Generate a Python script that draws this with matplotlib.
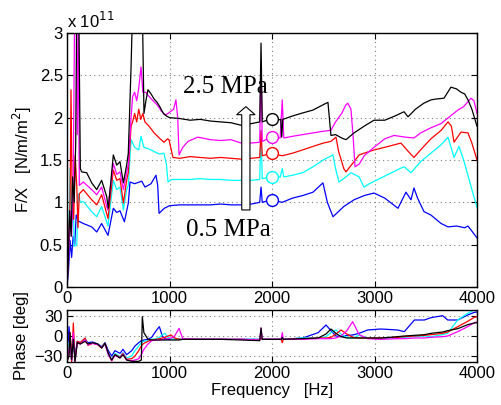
import numpy as np
import matplotlib
matplotlib.use("Agg")
import matplotlib.pyplot as plt

plt.rcParams['font.family'] = ['Liberation Sans', 'DejaVu Sans']

# ---- F/X magnitude, units of 1e11 N/m/m^2 ----
black_f = [0, 10, 25, 40, 55, 70, 85, 95, 115, 130, 143, 192, 241, 290, 338, 387, 403, 452, 485,
           517, 550, 582, 598, 625, 640, 735, 751, 770, 790, 820, 850, 880, 910, 940, 970, 1000,
           1100, 1200, 1300, 1400, 1500, 1600, 1700, 1800, 1880, 1893, 1905, 1950, 2000, 2050,
           2085, 2095, 2105, 2130, 2200, 2283, 2400, 2527, 2546, 2575, 2620, 2680, 2722, 2800,
           2900, 2995, 3100, 3200, 3288, 3327, 3400, 3480, 3551, 3600, 3678, 3746, 3800, 3844,
           3880, 3912, 3950, 4000]
black_v = [0.0, 0.2, 0.9, 0.6, 1.3, 1.0, 1.7, 3.3, 3.3, 1.4, 1.36, 1.35, 1.23, 1.15, 1.26, 1.07,
           0.93, 1.56, 1.44, 1.48, 1.23, 1.44, 1.58, 2.6, 3.3, 3.3, 2.05, 2.2, 2.33, 2.28, 2.22,
           2.18, 2.12, 2.05, 2.02, 2.0, 1.99, 1.97, 1.98, 1.96, 1.95, 1.94, 1.91, 1.93, 1.95,
           2.88, 1.95, 1.97, 1.98, 1.97, 1.98, 1.77, 1.98, 1.99, 2.02, 2.05, 2.09, 2.17, 2.18,
           1.79, 1.80, 1.76, 1.74, 1.82, 1.90, 1.97, 1.97, 2.02, 2.07, 2.01, 2.10, 2.17, 2.21,
           2.22, 2.23, 2.36, 2.34, 2.30, 2.28, 2.21, 2.10, 1.90]

magenta_f = [0, 15, 30, 45, 60, 75, 90, 100, 110, 120, 159, 241, 290, 338, 397, 452, 485, 517,
             550, 582, 598, 625, 640, 660, 680, 700, 722, 740, 770, 800, 840, 880, 920, 960, 985,
             1040, 1063, 1080, 1093, 1130, 1180, 1278, 1400, 1500, 1600, 1700, 1795, 1880, 1893,
             1905, 1990, 2080, 2100, 2115, 2200, 2300, 2400, 2500, 2575, 2620, 2680, 2720, 2740,
             2770, 2790, 2810, 2850, 2900, 2995, 3100, 3190, 3300, 3385, 3450, 3550, 3649, 3700,
             3814, 3870, 3941, 3970, 4000]
magenta_v = [0.0, 0.3, 0.9, 0.6, 1.2, 3.3, 3.3, 1.8, 3.3, 1.2, 1.24, 1.15, 1.09, 1.18, 0.91, 1.46,
             1.33, 1.36, 1.15, 1.35, 1.45, 2.0, 2.25, 2.3, 2.2, 2.35, 2.6, 2.3, 2.3, 2.25, 2.2,
             2.15, 2.08, 2.03, 2.05, 2.1, 2.21, 2.0, 1.56, 1.65, 1.72, 1.77, 1.74, 1.73, 1.74,
             1.70, 1.70, 1.71, 2.6, 1.72, 1.77, 1.76, 2.21, 1.76, 1.78, 1.80, 1.82, 1.84, 1.85,
             1.95, 2.05, 2.15, 2.17, 2.10, 1.80, 1.42, 1.45, 1.55, 1.65, 1.75, 1.79, 1.77, 1.76,
             1.82, 1.88, 1.93, 1.98, 2.09, 2.13, 2.23, 2.20, 2.05]

red_f = [0, 15, 30, 39, 50, 65, 80, 95, 107, 120, 159, 241, 290, 338, 400, 452, 485, 517, 550,
         582, 598, 625, 640, 660, 680, 700, 720, 740, 760, 800, 850, 900, 946, 980, 995, 1034,
         1100, 1200, 1300, 1400, 1500, 1600, 1700, 1795, 1880, 1893, 1905, 1990, 2100, 2200, 2300,
         2400, 2500, 2575, 2624, 2650, 2700, 2722, 2800, 2850, 2897, 3000, 3100, 3258, 3330, 3385,
         3450, 3550, 3650, 3717, 3750, 3776, 3844, 3912, 3950, 4000]
red_v = [0.0, 0.5, 1.0, 2.33, 1.1, 0.8, 1.55, 1.2, 0.7, 1.1, 1.15, 1.03, 0.97, 1.09, 0.81, 1.38,
         1.26, 1.28, 0.99, 1.26, 1.35, 1.9, 1.95, 2.05, 1.95, 2.1, 1.98, 2.05, 1.95, 1.9, 1.82,
         1.76, 1.71, 1.75, 1.74, 1.53, 1.52, 1.54, 1.53, 1.52, 1.53, 1.52, 1.51, 1.52, 1.53,
         1.85, 1.55, 1.58, 1.55, 1.58, 1.62, 1.66, 1.70, 1.72, 1.77, 1.60, 1.40, 1.36, 1.48,
         1.56, 1.58, 1.62, 1.65, 1.70, 1.60, 1.53, 1.62, 1.75, 1.85, 1.95, 1.90, 1.71, 1.83,
         1.82, 1.70, 1.50]

cyan_f = [0, 15, 30, 45, 60, 70, 95, 110, 130, 159, 241, 290, 338, 400, 452, 485, 517, 550, 582,
          598, 625, 660, 700, 722, 750, 800, 850, 900, 946, 970, 985, 1020, 1100, 1200, 1300, 1400,
          1500, 1600, 1700, 1795, 1880, 1893, 1905, 1990, 2080, 2100, 2115, 2200, 2300, 2400, 2500,
          2595, 2620, 2653, 2700, 2770, 2850, 2897, 2950, 3050, 3150, 3250, 3288, 3356, 3450,
          3550, 3650, 3717, 3776, 3824, 3870, 3950, 4000]
cyan_v = [0.0, 0.4, 1.4, 0.7, 1.1, 0.48, 0.5, 1.1, 1.0, 1.01, 0.89, 0.83, 0.95, 0.72, 1.26, 1.15,
          1.18, 0.91, 1.15, 1.2, 1.74, 1.65, 1.62, 1.78, 1.65, 1.63, 1.6, 1.57, 1.58, 1.45, 1.24,
          1.27, 1.27, 1.27, 1.28, 1.27, 1.27, 1.26, 1.26, 1.26, 1.27, 1.85, 1.28, 1.30, 1.30,
          1.40, 1.30, 1.32, 1.35, 1.42, 1.50, 1.56, 1.40, 1.24, 1.28, 1.35, 1.30, 1.18, 1.22,
          1.28, 1.34, 1.40, 1.42, 1.35, 1.48, 1.58, 1.68, 1.77, 1.53, 1.66, 1.50, 1.15, 0.94]

blue_f = [0, 15, 30, 45, 60, 75, 90, 110, 159, 241, 290, 338, 400, 452, 485, 517, 560, 598, 615,
          660, 729, 761, 820, 868, 885, 898, 950, 1000, 1100, 1200, 1300, 1400, 1500, 1600, 1700,
          1800, 1880, 1893, 1905, 1990, 2100, 2200, 2300, 2400, 2497, 2540, 2595, 2700, 2800, 2900,
          2995, 3100, 3229, 3307, 3356, 3385, 3420, 3483, 3550, 3650, 3717, 3800, 3880, 3912, 3950,
          4000]
blue_v = [0.0, 0.2, 0.55, 0.35, 0.6, 0.5, 0.85, 0.78, 0.75, 0.71, 0.65, 0.75, 0.61, 0.93, 0.88,
          0.9, 0.77, 0.99, 1.24, 1.22, 1.25, 1.18, 1.22, 1.32, 1.2, 0.87, 0.93, 0.96, 0.97, 0.97,
          0.97, 0.97, 0.98, 0.97, 0.97, 0.98, 1.0, 1.18, 1.0, 1.03, 1.0, 1.05, 1.08, 1.12, 1.23,
          1.0, 0.83, 0.95, 1.03, 1.08, 1.11, 1.05, 0.93, 1.12, 1.03, 1.17, 1.05, 0.89, 0.85, 0.75,
          0.71, 0.72, 0.70, 0.72, 0.66, 0.58]

# ---- phase, deg (shared frequency grid) ----
phase_f = [0, 20, 30, 45, 62, 78, 100, 130, 176, 205, 250, 300, 338, 371, 403, 436, 468, 517, 546,
           582, 631, 663, 700, 725, 735, 750, 790, 826, 870, 901, 930, 956, 985, 1015, 1050, 1093,
           1130, 1300, 1500, 1700, 1880, 1893, 1905, 2090, 2100, 2110, 2300, 2450, 2527, 2575,
           2624, 2673, 2730, 2787, 2850, 2933, 3063, 3226, 3291, 3389, 3486, 3551, 3665, 3714,
           3812, 3909, 3974, 4000]
black_ph = [-38, -30, 5, -35, -5, -38, -10, -12, -8, -12, -10, -12, -18, -11, -26, -36, -28, -33,
            -28, -36, -38, -38, -38, -36, 29, 5, -5, -6, -6, -6, -6, -6, -6, -6, -6, -6, -5, -5,
            -5, -6, -7, 12, -5, -5, -2, -5, -4, -3, 3, 10.5, 4, -1, -3, -3, -3, -3, -3, -1, 0, 1,
            2, 4, 6, 8, 11, 17, 19.5, 20]
magenta_ph = [-38, -20, -10, -35, 5, -38, -10, -12, -6, -13, -11, -13, -17, -12, -28, -37, -29,
              -33, -27, -36, -37, -36, -34, -28, -25, -20, -12, -7, -6, -6, -5, -5, -4, -3, 0,
              11.5, -4, -5, -5, -5, -6, 12, -5, -5, 5, -5, -5, -4, -4, -4, -3, 0, 8, 21.5, 2, -4,
              -5, -4, -4, -3, -3, -2, -1, 0, 6.5, 14, 20, 21]
red_ph = [-30, -25, 5, -38, 19.5, -38, -8, -10, -3, -14, -11, -13, -18, -11, -27, -37, -28, -32,
          -26, -35, -34, -30, -22, -15, -13, -11, -8, -6, -5, -4, -3, -2, 0, 1.5, -3, -5, -5, -5,
          -5, -5, -6, -3, -5, -5, -10, -5, -4, -3, -3, -2, 3, 9, 3, -2, -3, -3, -3, -2, -1, 0, 1,
          2, 4, 6, 14, 22, 28, 29]
cyan_ph = [-38, -10, -20, -30, 0, -38, -8, -12, -3, -13, -10, -13, -17, -11, -27, -36, -26, -31,
           -25, -33, -30, -22, -15, -10, -9, -8, -7, -5, -4, -2, 2, 4, -2, -5, -5, -5, -5, -5, -5,
           -5, -5, -3, -5, -5, -5, -5, -3, -3, -1, 5, 9, 3, -2, -3, 1, -3, -4, -3, -2, -1, 0, -1,
           2, 4, 24, 34, 39, 40]
blue_ph = [-36, 14, -10, -38, -10, -30, -8, -10, -5, -10, -9, -12, -16, -10, -22, -30, -22, -26,
           -20, -28, -22, -15, -10, -7, -7, -6, -5, -2, 8, 14, 0, -4, -5, -5, -5, -5, -5, -5, -5,
           -5, -5, -3, -5, -5, -5, -5, -3, 5, 16.5, 8, 0, -1, 1, 1.5, 4, 9, 10.5, 9, 6.5, 24, 24,
           27.5, 30.5, 24, 24, 31.5, 35.5, 36]

series = [
    (blue_f, blue_v, blue_ph, '#0000ff'),
    (cyan_f, cyan_v, cyan_ph, '#00ffff'),
    (red_f, red_v, red_ph, '#ff0000'),
    (magenta_f, magenta_v, magenta_ph, '#ff00ff'),
    (black_f, black_v, black_ph, '#000000'),
]
marker_f = 2000

fig = plt.figure(figsize=(5.02, 4.05), dpi=100)
ax1 = fig.add_axes([67 / 502, 1 - 287 / 405, 410 / 502, 254 / 405])
ax2 = fig.add_axes([67 / 502, 1 - 362 / 405, 410 / 502, 52 / 405])

for f, v, ph, c in series:
    ax1.plot(f, v, color=c, lw=0.9)
    ax2.plot(phase_f, ph, color=c, lw=0.9)
    ax1.plot(marker_f, np.interp(marker_f, f, v), 'o', ms=8.5, mfc='white', mec=c, mew=1.0)

# hollow arrow, 0.5 -> 2.5 MPa
ax1.arrow(1745, 0.91, 0, 1.22, width=80, head_width=180, head_length=0.095,
          length_includes_head=True, fc='white', ec='black', lw=0.8, zorder=5)
ax1.text(1130, 2.36, '2.5 MPa', fontsize=18, family=['Liberation Serif'], va='center')
ax1.text(1160, 0.67, '0.5 MPa', fontsize=18, family=['Liberation Serif'], va='center')
fig.text(67 / 502, 1 - 28 / 405, r'x 10$^{11}$', fontsize=12, ha='left', va='baseline')

for ax in (ax1, ax2):
    ax.set_xlim(0, 4000)
    ax.set_xticks([0, 1000, 2000, 3000, 4000])
    ax.grid(True, linestyle=(0, (1, 3)), color='0.5', lw=0.8)
    ax.tick_params(direction='in', top=True, right=True, labelsize=12, length=4, pad=3)
    for s in ax.spines.values():
        s.set_linewidth(1.0)

ax1.set_ylim(0, 3)
ax1.set_yticks([0, 0.5, 1, 1.5, 2, 2.5, 3])
ax1.set_yticklabels(['0', '0.5', '1', '1.5', '2', '2.5', '3'])
ax1.set_ylabel('F/X   [N/m/m$^2$]', fontsize=12, labelpad=4)

ax2.set_ylim(-39, 39)
ax2.set_yticks([-30, 0, 30])
ax2.set_yticklabels(['\u221230', '0', '30'])
ax2.set_ylabel('Phase [deg]', fontsize=12, labelpad=4)
ax2.set_xlabel('Frequency   [Hz]', fontsize=12, labelpad=1)

fig.savefig('out.png', dpi=100)
